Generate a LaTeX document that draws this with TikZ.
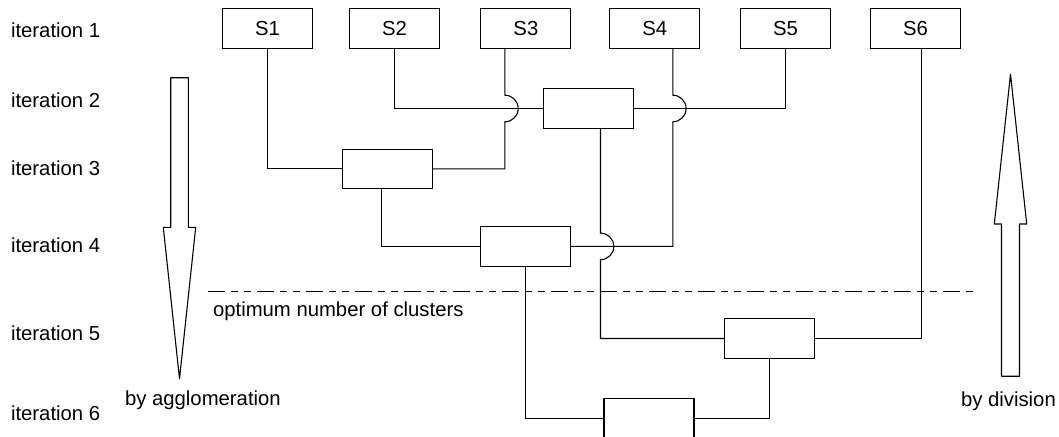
\documentclass[tikz,border=0pt]{standalone}
\usepackage{fontspec}
\setmainfont{Liberation Sans}
\usetikzlibrary{calc}
\begin{document}
\begin{tikzpicture}[x=1pt,y=1pt,line width=1.1pt,
  box/.style={draw,minimum width=90pt,minimum height=39.5pt,inner sep=0pt,font=\fontsize{20.3}{24}\selectfont},
  lbl/.style={anchor=base west,inner sep=0pt,font=\fontsize{20.3}{24}\selectfont},
  bigarrow/.style={draw,line width=1.1pt,line join=round},
  optline/.style={line width=1.1pt,dash pattern=on 17pt off 6pt on 7pt off 6pt on 7pt off 6pt}]
\useasboundingbox (0,0) rectangle (1059,-436);
% iteration labels
\node[lbl] (it1) at (10.5,-37.6) {iteration 1};
\node[lbl] (it2) at (10.5,-107.5) {iteration 2};
\node[lbl] (it3) at (10.5,-175.0) {iteration 3};
\node[lbl] (it4) at (10.5,-252.6) {iteration 4};
\node[lbl] (it5) at (10.5,-340.5) {iteration 5};
\node[lbl] (it6) at (10.5,-420.5) {iteration 6};
% top boxes
\node[box] (S1) at (267.5,-28.5) {S1};
\node[box] (S2) at (394.6,-28.5) {S2};
\node[box] (S3) at (525.9,-28.5) {S3};
\node[box] (S4) at (654.8,-28.5) {S4};
\node[box] (S5) at (785.6,-28.5) {S5};
\node[box] (S6) at (915.5,-28.5) {S6};
% cluster boxes
\node[box] (B2) at (588.5,-108.5) {};
\node[box] (B3) at (387.5,-168.9) {};
\node[box] (B4) at (525.6,-246.4) {};
\node[box] (B5) at (769.7,-338.5) {};
\node[box] (B6) at (649.0,-418.5) {};
% connectors
\draw (S1.south) |- (B3.west);
\draw (S2.south) |- (B2.west);
\draw (B2.east) -| (S5.south);
\coordinate (s3) at ([xshift=-21pt]S3.south);
\draw (s3) -- ($(s3 |- B2.west)+(0,13.3)$) arc[start angle=90,end angle=-90,radius=13.3pt] |- (B3.east);
\coordinate (s4) at ([xshift=18pt]S4.south);
\draw (s4) -- ($(s4 |- B2.east)+(0,13.3)$) arc[start angle=90,end angle=-90,radius=13.3pt] |- (B4.east);
\coordinate (b2) at ([xshift=12pt]B2.south);
\draw (b2) -- ($(b2 |- B4.east)+(0,13.3)$) arc[start angle=90,end angle=-90,radius=13.3pt] |- (B5.west);
\draw ([xshift=-6pt]B3.south) |- (B4.west);
\draw (B5.east) -| ([xshift=6pt]S6.south);
\draw (B5.south) |- (B6.east);
\draw (B4.south) |- (B6.west);
% optimum line
\coordinate (optL) at (207.9,-291.9);
\coordinate (optR) at (978.7,-291.9);
\draw[optline] (optL) -- (optR);
\node[lbl] (opt) at (212.5,-316) {optimum number of clusters};
% big arrows
\draw[bigarrow] (170.7,-77.7) -- (188.3,-77.7) -- (188.3,-227.4) -- (195.7,-227.4) -- (179.5,-378.9) -- (163.3,-227.4) -- (170.7,-227.4) -- cycle;
\draw[bigarrow] (1001.5,-376.2) -- (1019.5,-376.2) -- (1019.5,-224) -- (1026.7,-224) -- (1010.5,-74.2) -- (994.3,-224) -- (1001.5,-224) -- cycle;
\node[lbl] (agg) at (124.5,-405.5) {by agglomeration};
\node[lbl] (div) at (960.5,-406.5) {by division};
\end{tikzpicture}
\end{document}
